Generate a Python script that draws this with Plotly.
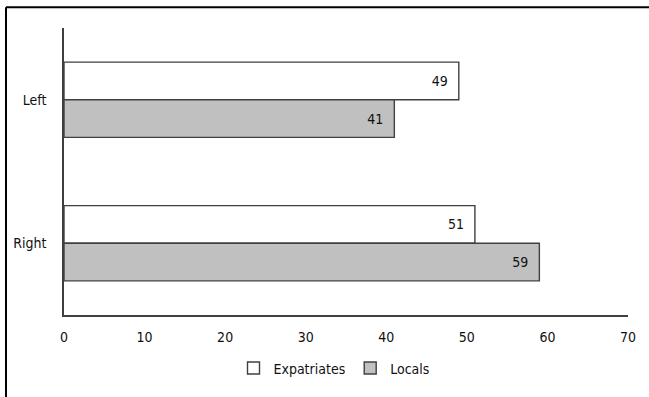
import plotly.graph_objects as go

# Survey split by side, for expatriates and locals (percent)
categories = ["Left", "Right"]
expatriates = [49, 51]
locals_ = [41, 59]
x_ticks = [0, 10, 20, 30, 40, 50, 60, 70]

W, H = 649, 397
# plot area in pixels
L, R, T, B = 64, 628, 28, 318

font_family = "Liberation Sans Narrow, DejaVu Sans Condensed, Arial Narrow, sans-serif"
fs = 14
outline = dict(color="#404040", width=1.4)
pad = "\u00a0\u00a0"

fig = go.Figure()
fig.add_trace(go.Bar(
    name="Expatriates", y=categories, x=expatriates, orientation="h",
    marker=dict(color="#FFFFFF", line=outline),
    text=[f"{v}{pad}" for v in expatriates], textposition="inside",
    insidetextanchor="end", textfont=dict(color="#111111", size=fs, family=font_family),
    cliponaxis=False,
))
fig.add_trace(go.Bar(
    name="Locals", y=categories, x=locals_, orientation="h",
    marker=dict(color="#C0C0C0", line=outline),
    text=[f"{v}{pad}" for v in locals_], textposition="inside",
    insidetextanchor="end", textfont=dict(color="#111111", size=fs, family=font_family),
    cliponaxis=False,
))

pw, ph = R - L, B - T
fig.update_layout(
    width=W, height=H,
    margin=dict(l=L, r=W - R, t=T, b=H - B, pad=0),
    paper_bgcolor="white", plot_bgcolor="white",
    barmode="group", bargap=0.476, bargroupgap=0,
    font=dict(family=font_family, size=fs, color="#111111"),
    showlegend=True,
    legend=dict(
        orientation="h", x=(334 - L) / pw, xanchor="center",
        y=-(372 - B) / ph, yanchor="middle",
        font=dict(size=fs, family=font_family, color="#111111"),
        itemwidth=30, traceorder="normal",
    ),
    xaxis=dict(
        range=[0, 70], tickvals=x_ticks, ticktext=[str(t) for t in x_ticks],
        showgrid=False, zeroline=False, showline=True, linecolor="#404040",
        linewidth=1.5, ticks="", ticklabelstandoff=8,
        tickfont=dict(size=fs, family=font_family, color="#111111"),
    ),
    yaxis=dict(
        categoryorder="array", categoryarray=categories, autorange="reversed",
        showgrid=False, zeroline=False, showline=True, linecolor="#404040",
        linewidth=1.5, ticks="", ticklabelstandoff=13,
        tickfont=dict(size=fs, family=font_family, color="#111111"),
    ),
    shapes=[
        # outer frame, top and left edges
        dict(type="line", xref="paper", yref="paper",
             x0=(6 - L) / pw, x1=(W + 5 - L) / pw,
             y0=1 + (T - 7) / ph, y1=1 + (T - 7) / ph,
             line=dict(color="#000000", width=2)),
        dict(type="line", xref="paper", yref="paper",
             x0=(6 - L) / pw, x1=(6 - L) / pw,
             y0=1 + (T - 7) / ph, y1=-(H + 5 - B) / ph,
             line=dict(color="#000000", width=2)),
    ],
)

fig.write_html("out.html")
